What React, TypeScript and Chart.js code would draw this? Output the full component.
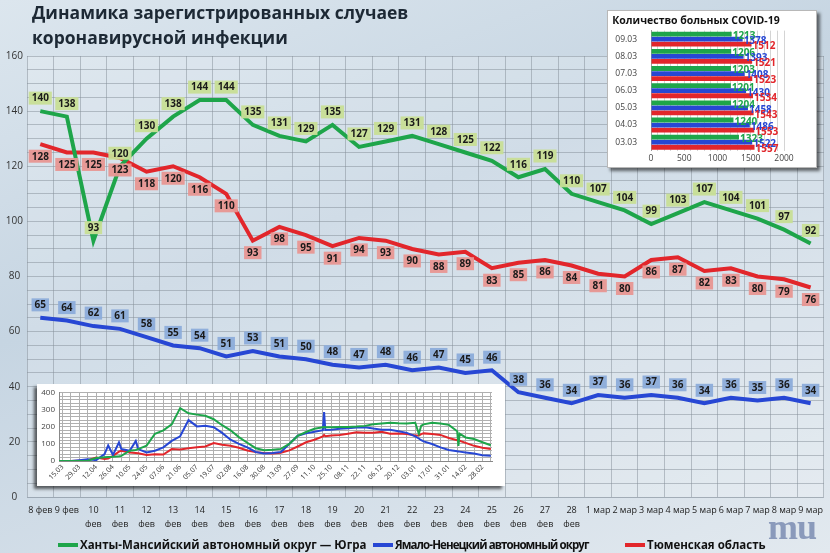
import React, { useEffect, useRef } from 'react';
import { Chart, registerables } from 'chart.js';

Chart.register(...registerables);

const FONT = '"Open Sans", "DejaVu Sans", sans-serif';

const GREEN = '#1ea54a';
const BLUE = '#2747d4';
const RED = '#e2262b';
const GRID = 'rgba(105, 118, 130, 0.5)';

const seriesNames = [
    'Ханты-Мансийский автономный округ — Югра',
    'Ямало-Ненецкий автономный округ',
    'Тюменская область',
];

// main chart, 8 фев – 9 мар
const mainLabels: (string | string[])[] = [
    '8 фев', '9 фев', ['10', 'фев'], ['11', 'фев'], ['12', 'фев'], ['13', 'фев'], ['14', 'фев'],
    ['15', 'фев'], ['16', 'фев'], ['17', 'фев'], ['18', 'фев'], ['19', 'фев'], ['20', 'фев'],
    ['21', 'фев'], ['22', 'фев'], ['23', 'фев'], ['24', 'фев'], ['25', 'фев'], ['26', 'фев'],
    ['27', 'фев'], ['28', 'фев'], '1 мар', '2 мар', '3 мар', '4 мар', '5 мар', '6 мар',
    '7 мар', '8 мар', '9 мар',
];
const yugra = [140, 138, 93, 120, 130, 138, 144, 144, 135, 131, 129, 135, 127, 129, 131, 128, 125, 122, 116, 119, 110, 107, 104, 99, 103, 107, 104, 101, 97, 92];
const yamal = [65, 64, 62, 61, 58, 55, 54, 51, 53, 51, 50, 48, 47, 48, 46, 47, 45, 46, 38, 36, 34, 37, 36, 37, 36, 34, 36, 35, 36, 34];
const tyumen = [128, 125, 125, 123, 118, 120, 116, 110, 93, 98, 95, 91, 94, 93, 90, 88, 89, 83, 85, 86, 84, 81, 80, 86, 87, 82, 83, 80, 79, 76];

// bar inset
const barDates = ['09.03', '08.03', '07.03', '06.03', '05.03', '04.03', '03.03'];
const barYugra = [1213, 1206, 1203, 1201, 1204, 1240, 1323];
const barYamal = [1378, 1393, 1408, 1430, 1458, 1486, 1522];
const barTyumen = [1512, 1521, 1523, 1534, 1543, 1553, 1557];

// year inset, days counted from 15.03
const insetTickLabels = [
    '15.03', '29.03', '12.04', '26.04', '10.05', '24.05', '07.06', '21.06', '05.07', '19.07',
    '02.08', '16.08', '30.08', '13.09', '27.09', '11.10', '25.10', '08.11', '22.11', '06.12',
    '20.12', '03.01', '17.01', '31.01', '14.02', '28.02',
];
const insetDays = [-3, 0, 7, 14, 21, 28, 35, 38, 42, 47, 49, 56, 61, 63, 70, 77, 84, 91, 98, 105, 112, 119, 126, 133, 140, 147, 154, 161, 168, 175, 182, 189, 196, 203, 210, 217, 218, 219, 224, 231, 238, 245, 252, 259, 266, 273, 280, 287, 294, 297, 299, 301, 308, 315, 322, 329, 330, 331, 336, 343, 350, 357];
const trendYugra = [0, 0, 0, 0, 2, 18, 22, 24, 25, 28, 30, 60, 65, 70, 90, 160, 180, 215, 310, 280, 272, 265, 245, 210, 180, 140, 107, 75, 63, 66, 71, 100, 147, 170, 189, 198, 199, 198, 198, 200, 200, 202, 206, 215, 220, 224, 221, 220, 224, 160, 207, 215, 224, 220, 212, 175, 89, 160, 138, 129, 110, 92];
const trendYamal = [0, 0, 0, 5, 10, 5, 40, 91, 35, 109, 70, 60, 118, 70, 50, 60, 80, 118, 145, 240, 203, 207, 198, 165, 125, 100, 80, 53, 44, 47, 53, 100, 148, 162, 172, 181, 287, 182, 184, 189, 192, 197, 198, 190, 184, 183, 175, 165, 145, 132, 122, 115, 100, 80, 65, 57, 56, 55, 50, 44, 34, 31];
const trendTyumen = [0, 0, 0, 2, 5, 20, 12, 15, 30, 55, 60, 50, 47, 45, 35, 40, 38, 70, 68, 75, 80, 85, 105, 95, 89, 78, 62, 52, 47, 44, 48, 62, 85, 110, 125, 144, 152, 145, 150, 153, 160, 168, 166, 165, 171, 160, 161, 158, 150, 150, 158, 162, 158, 153, 135, 122, 120, 119, 106, 89, 78, 71];

const insetTickDays = insetTickLabels.flatMap((_, i) => [i * 14, i * 14 + 7]);

// label boxes: offset from the point and fill, per dataset
const boxOffsets = [-13, -13, 12];
const boxFills = ['rgba(200, 222, 150, 0.95)', 'rgba(140, 172, 218, 0.95)', 'rgba(232, 150, 146, 0.95)'];

const legendColors = [GREEN, BLUE, RED];
const legendLefts = [58, 373, 625];
const legendSpacing = [0, -0.9, 0];

const plotBackground = {
    id: 'plotBackground',
    beforeDatasetsDraw(chart: any) {
        const { ctx, chartArea } = chart;
        ctx.save();
        ctx.fillStyle = 'rgba(255,255,255,0.18)';
        ctx.fillRect(chartArea.left, chartArea.top, chartArea.width, chartArea.height);
        ctx.restore();
    },
};

const boxLabels = {
    id: 'boxLabels',
    afterDatasetsDraw(chart: any) {
        const ctx = chart.ctx;
        ctx.save();
        ctx.font = `bold 10px ${FONT}`;
        ctx.textAlign = 'center';
        ctx.textBaseline = 'middle';
        chart.data.datasets.forEach((ds: any, i: number) => {
            const meta = chart.getDatasetMeta(i);
            meta.data.forEach((pt: any, j: number) => {
                const text = String(ds.data[j]);
                const w = ctx.measureText(text).width + 6;
                const h = 13;
                const cy = pt.y + boxOffsets[i];
                ctx.fillStyle = boxFills[i];
                ctx.fillRect(pt.x - w / 2, cy - h / 2, w, h);
                ctx.fillStyle = '#1a1a1a';
                ctx.fillText(text, pt.x, cy + 0.5);
            });
        });
        ctx.restore();
    },
};

const barValueLabels = {
    id: 'barValueLabels',
    afterDatasetsDraw(chart: any) {
        const ctx = chart.ctx;
        ctx.save();
        ctx.font = `bold 10px ${FONT}`;
        ctx.textAlign = 'left';
        ctx.textBaseline = 'middle';
        chart.data.datasets.forEach((ds: any, i: number) => {
            ctx.fillStyle = ds.backgroundColor;
            chart.getDatasetMeta(i).data.forEach((bar: any, j: number) => {
                ctx.fillText(String(ds.data[j]), bar.x + 1, bar.y + 2);
            });
        });
        ctx.restore();
    },
};

const MainChart: React.FC = () => {
    const ref = useRef<HTMLCanvasElement>(null);

    useEffect(() => {
        if (!ref.current) return;
        const chart = new Chart(ref.current, {
            type: 'line',
            data: {
                labels: mainLabels,
                datasets: [
                    { label: seriesNames[0], data: yugra, borderColor: GREEN, backgroundColor: GREEN },
                    { label: seriesNames[1], data: yamal, borderColor: BLUE, backgroundColor: BLUE },
                    { label: seriesNames[2], data: tyumen, borderColor: RED, backgroundColor: RED },
                ],
            },
            options: {
                responsive: false,
                animation: false,
                elements: { line: { borderWidth: 4, tension: 0 }, point: { radius: 0 } },
                layout: { padding: { top: 56, right: 5, bottom: 26, left: 0 } },
                plugins: { legend: { display: false }, tooltip: { enabled: false } },
                scales: {
                    x: {
                        offset: true,
                        grid: { offset: true, color: GRID, drawTicks: false },
                        border: { display: false },
                        ticks: {
                            autoSkip: false,
                            maxRotation: 0,
                            padding: 7,
                            color: '#222',
                            font: { family: FONT, size: 9, lineHeight: 1.5 },
                        },
                        afterFit: (s: any) => { s.height = 30; },
                    },
                    y: {
                        min: 0,
                        max: 160,
                        grid: { color: GRID, drawTicks: false },
                        border: { display: false },
                        ticks: {
                            stepSize: 5,
                            autoSkip: false,
                            padding: 4,
                            crossAlign: 'center',
                            color: '#333',
                            font: { family: FONT, size: 10 },
                            callback: (v: any) => (Number(v) % 20 === 0 ? v : ''),
                        },
                        afterFit: (s: any) => { s.width = 27; },
                    },
                },
            } as any,
            plugins: [plotBackground, boxLabels],
        });
        return () => chart.destroy();
    }, []);

    return <canvas ref={ref} width={830} height={553} style={{ position: 'absolute', left: 0, top: 0 }} />;
};

const CasesBarChart: React.FC = () => {
    const ref = useRef<HTMLCanvasElement>(null);

    useEffect(() => {
        if (!ref.current) return;
        const chart = new Chart(ref.current, {
            type: 'bar',
            data: {
                labels: barDates,
                datasets: [
                    { label: seriesNames[0], data: barYugra, backgroundColor: GREEN },
                    { label: seriesNames[1], data: barYamal, backgroundColor: BLUE },
                    { label: seriesNames[2], data: barTyumen, backgroundColor: RED },
                ],
            },
            options: {
                indexAxis: 'y',
                responsive: false,
                animation: false,
                datasets: { bar: { categoryPercentage: 0.88, barPercentage: 0.95 } },
                layout: { padding: { top: 0, right: 34, bottom: 2, left: 0 } },
                plugins: {
                    legend: { display: false },
                    tooltip: { enabled: false },
                    title: {
                        display: true,
                        text: 'Количество больных COVID-19',
                        color: '#111',
                        font: { family: FONT, size: 10.5, weight: 'bold' },
                        padding: { top: 4, bottom: 3 },
                    },
                },
                scales: {
                    x: {
                        min: 0,
                        max: 2000,
                        grid: { color: '#d4d4d4', drawTicks: false },
                        border: { display: false },
                        ticks: {
                            stepSize: 100,
                            autoSkip: false,
                            maxRotation: 0,
                            padding: 3,
                            color: '#444',
                            font: { family: FONT, size: 8.5 },
                            callback: (v: any) => (Number(v) % 500 === 0 ? v : ''),
                        },
                    },
                    y: {
                        grid: { display: false },
                        border: { color: '#999' },
                        ticks: { color: '#444', padding: 6, font: { family: FONT, size: 8.5 } },
                        afterFit: (s: any) => { s.width = 43; },
                    },
                },
            } as any,
            plugins: [barValueLabels],
        });
        return () => chart.destroy();
    }, []);

    return <canvas ref={ref} width={210} height={158} />;
};

const TrendInsetChart: React.FC = () => {
    const ref = useRef<HTMLCanvasElement>(null);

    useEffect(() => {
        if (!ref.current) return;
        const points = (values: number[]) => insetDays.map((d, i) => ({ x: d, y: values[i] }));
        const chart = new Chart(ref.current, {
            type: 'line',
            data: {
                datasets: [
                    { label: seriesNames[0], data: points(trendYugra), borderColor: GREEN },
                    { label: seriesNames[1], data: points(trendYamal), borderColor: BLUE },
                    { label: seriesNames[2], data: points(trendTyumen), borderColor: RED },
                ],
            },
            options: {
                responsive: false,
                animation: false,
                elements: { line: { borderWidth: 2, tension: 0 }, point: { radius: 0 } },
                layout: { padding: { top: 2, right: 13, bottom: 0, left: 0 } },
                plugins: { legend: { display: false }, tooltip: { enabled: false } },
                scales: {
                    x: {
                        type: 'linear',
                        min: -3,
                        max: 358,
                        afterBuildTicks: (s: any) => { s.ticks = insetTickDays.map((value) => ({ value })); },
                        grid: { color: '#b0b0b0', drawTicks: false },
                        border: { color: '#888' },
                        ticks: {
                            autoSkip: false,
                            minRotation: 45,
                            maxRotation: 45,
                            padding: 2,
                            color: '#333',
                            font: { family: FONT, size: 7 },
                            callback: (v: any) => (Number(v) % 14 === 0 ? insetTickLabels[Number(v) / 14] : ''),
                        },
                        afterFit: (s: any) => { s.height = 25; },
                    },
                    y: {
                        min: 0,
                        max: 400,
                        grid: { color: '#b0b0b0', drawTicks: false },
                        border: { color: '#888' },
                        ticks: {
                            stepSize: 20,
                            autoSkip: false,
                            padding: 4,
                            color: '#444',
                            font: { family: FONT, size: 8 },
                            callback: (v: any) => (Number(v) % 100 === 0 ? v : ''),
                        },
                        afterFit: (s: any) => { s.width = 22; },
                    },
                },
            } as any,
        });
        return () => chart.destroy();
    }, []);

    return <canvas ref={ref} width={468} height={102} />;
};

const App: React.FC = () => (
    <div
        style={{
            position: 'absolute',
            left: 0,
            top: 0,
            width: 830,
            height: 553,
            overflow: 'hidden',
            fontFamily: FONT,
            background: 'linear-gradient(160deg, #dce6ee 0%, #c6d5e2 40%, #d3dee8 70%, #e2e9ef 100%)',
        }}
    >
        <MainChart />
        <div
            style={{
                position: 'absolute',
                left: 32,
                top: 0,
                fontWeight: 700,
                fontSize: 17.5,
                lineHeight: '25px',
                color: '#1d2935',
            }}
        >
            Динамика зарегистрированных случаев
            <br />
            коронавирусной инфекции
        </div>
        <div
            style={{
                position: 'absolute',
                left: 607,
                top: 10,
                width: 210,
                height: 158,
                background: '#fff',
                border: '1px solid #b8b8b8',
                boxSizing: 'border-box',
                boxShadow: '3px 3px 3px rgba(0,0,0,0.55)',
            }}
        >
            <CasesBarChart />
        </div>
        <div
            style={{
                position: 'absolute',
                left: 37,
                top: 384,
                width: 468,
                height: 102,
                background: '#fff',
                boxShadow: '-3px 3px 3px rgba(0,0,0,0.6)',
            }}
        >
            <TrendInsetChart />
        </div>
        {seriesNames.map((name, i) => (
            <div
                key={name}
                style={{
                    position: 'absolute',
                    left: legendLefts[i],
                    top: 537,
                    display: 'flex',
                    alignItems: 'center',
                    fontWeight: 700,
                    fontSize: 11.5,
                    lineHeight: '16px',
                    letterSpacing: legendSpacing[i],
                    color: '#111',
                    whiteSpace: 'nowrap',
                }}
            >
                <span style={{ width: 20, height: 4, background: legendColors[i], marginRight: 2 }} />
                {name}
            </div>
        ))}
        <div
            style={{
                position: 'absolute',
                left: 768,
                top: 506,
                fontFamily: '"Liberation Serif", serif',
                fontWeight: 700,
                fontSize: 36,
                color: 'rgba(110, 128, 170, 0.75)',
                letterSpacing: -1,
            }}
        >
            mu
        </div>
    </div>
);

export default App;
